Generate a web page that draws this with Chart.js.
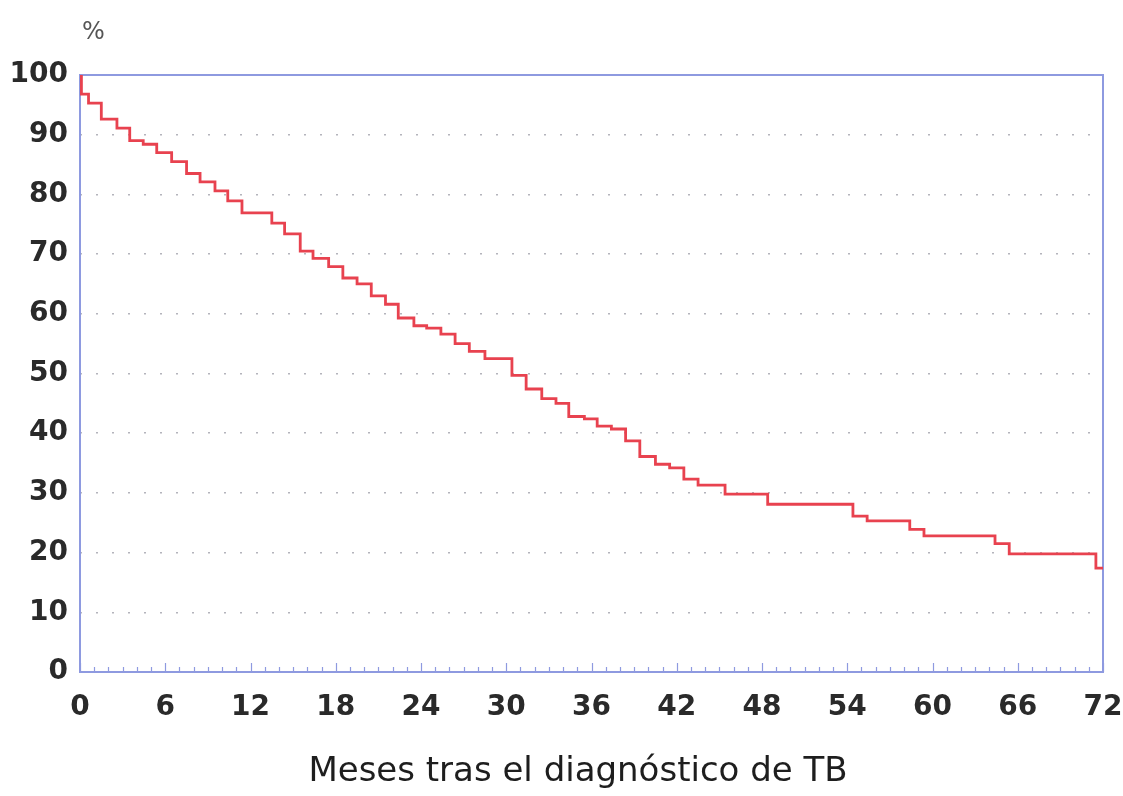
<!DOCTYPE html>
<html>
<head>
<meta charset="utf-8">
<script src="https://cdn.jsdelivr.net/npm/chart.js@4"></script>
<style>
  body { margin: 0; background: #fff; }
  #wrap { width: 1123px; height: 796px; position: relative; }
</style>
</head>
<body>
<div id="wrap"><canvas id="km-chart"></canvas></div>
<script>
// Kaplan-Meier survival after TB diagnosis (months, %)
var months = [0, 0.1, 0.6, 1.5, 2.6, 3.5, 4.45, 5.4, 6.45, 7.5, 8.45, 9.5, 10.4, 11.4, 13.5, 14.4,
              15.5, 16.4, 17.5, 18.5, 19.5, 20.5, 21.5, 22.4, 23.5, 24.4, 25.4, 26.4, 27.4, 28.5,
              30.4, 31.4, 32.5, 33.5, 34.4, 35.5, 36.4, 37.4, 38.4, 39.4, 40.5, 41.5, 42.5, 43.5,
              45.4, 48.4, 54.4, 55.4, 58.4, 59.4, 64.4, 65.4, 71.5, 72];
var survival = [100, 96.8, 95.3, 92.6, 91.1, 89.0, 88.4, 87.0, 85.5, 83.5, 82.1, 80.6, 78.9, 76.9, 75.2, 73.4,
                70.5, 69.3, 67.9, 66.0, 65.0, 63.0, 61.6, 59.3, 58.0, 57.6, 56.6, 55.0, 53.7, 52.5,
                49.7, 47.4, 45.8, 45.0, 42.8, 42.4, 41.2, 40.7, 38.7, 36.1, 34.8, 34.2, 32.3, 31.3,
                29.8, 28.1, 26.1, 25.3, 23.9, 22.8, 21.5, 19.8, 17.4, 17.4];
var xTicks = [0, 6, 12, 18, 24, 30, 36, 42, 48, 54, 60, 66, 72];
var yTicks = [0, 10, 20, 30, 40, 50, 60, 70, 80, 90, 100];

var frameColor = '#8e9ae0';
var fontFamily = '"DejaVu Sans", "Liberation Sans", Arial, sans-serif';

var points = [];
for (var i = 0; i < months.length; i++) {
    points.push({ x: months[i], y: survival[i] });
}

// box around the plot plus the small month ticks on the bottom axis
var framePlugin = {
    id: 'frame',
    beforeDatasetsDraw: function(chart) {
        var ctx = chart.ctx, a = chart.chartArea, xs = chart.scales.x;
        ctx.save();
        ctx.strokeStyle = frameColor;
        ctx.lineWidth = 2;
        ctx.strokeRect(a.left, a.top, a.right - a.left, a.bottom - a.top);
        ctx.lineWidth = 1.2;
        for (var m = 0; m <= 72; m++) {
            var px = Math.round(xs.getPixelForValue(m)) + 0.5;
            ctx.beginPath();
            ctx.moveTo(px, a.bottom);
            ctx.lineTo(px, a.bottom - (m % 6 === 0 ? 9 : 5));
            ctx.stroke();
        }
        ctx.restore();
    },
    afterDraw: function(chart) {
        var ctx = chart.ctx, a = chart.chartArea;
        ctx.save();
        ctx.fillStyle = '#555';
        ctx.font = '24px ' + fontFamily;
        ctx.textAlign = 'left';
        ctx.textBaseline = 'middle';
        ctx.fillText('%', a.left + 2, 33);
        // axis title, centred a little left of the plot centre
        ctx.fillStyle = '#1e1e1e';
        ctx.font = '34px ' + fontFamily;
        ctx.textAlign = 'center';
        ctx.fillText('Meses tras el diagnóstico de TB', 578, 772);
        ctx.restore();
    }
};

var chart = new Chart(document.getElementById('km-chart').getContext('2d'), {
    type: 'line',
    data: {
        datasets: [{
            data: points,
            stepped: 'before',
            borderColor: '#e8424f',
            borderWidth: 2.8,
            pointRadius: 0,
            fill: false
        }]
    },
    options: {
        responsive: true,
        maintainAspectRatio: false,
        animation: false,
        layout: { padding: { top: 75, right: 20, left: 0, bottom: 0 } },
        plugins: { legend: { display: false }, tooltip: { enabled: false } },
        scales: {
            x: {
                type: 'linear',
                min: 0,
                max: 72,
                afterFit: function(scale) {
                    scale.height = 124;
                    scale.paddingLeft = 0;
                    scale.paddingRight = 0;
                },
                afterBuildTicks: function(scale) {
                    scale.ticks = xTicks.map(function(v) { return { value: v }; });
                },
                grid: { display: false, drawTicks: false },
                border: { display: false },
                ticks: {
                    padding: 19,
                    maxRotation: 0,
                    color: '#2a2a2a',
                    font: { family: fontFamily, size: 28, weight: 'bold' }
                }
            },
            y: {
                min: 0,
                max: 100,
                afterFit: function(scale) { scale.width = 80; },
                afterBuildTicks: function(scale) {
                    scale.ticks = yTicks.map(function(v) { return { value: v }; });
                },
                grid: {
                    drawTicks: false,
                    lineWidth: 1.5,
                    color: function(c) {
                        var v = c.tick ? c.tick.value : 0;
                        return (v === 0 || v === 100) ? 'rgba(0,0,0,0)' : '#b4b4bc';
                    }
                },
                border: { display: false, dash: [2, 14] },
                ticks: {
                    padding: 12,
                    color: '#2a2a2a',
                    font: { family: fontFamily, size: 28, weight: 'bold' }
                }
            }
        }
    },
    plugins: [framePlugin]
});
</script>
</body>
</html>
